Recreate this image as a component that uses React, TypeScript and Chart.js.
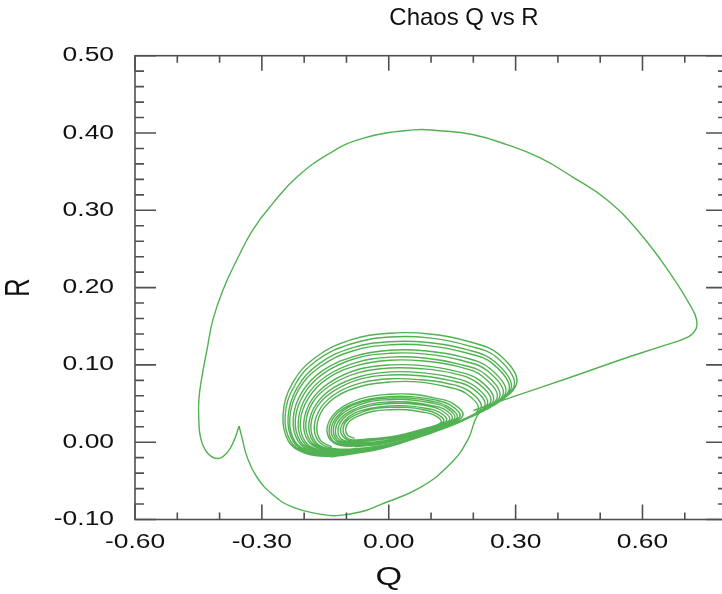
import React, { useEffect, useRef } from "react";
import { Chart, registerables } from "chart.js";
Chart.register(...registerables);

const TITLE = "Chaos Q vs R";
const X_TITLE = "Q";
const Y_TITLE = "R";
const X_MIN = -0.6;
const X_MAX = 0.788; // axis frame reaches 0.80 just past the right edge of the picture
const X_FRAME_END = 0.8;
const Y_MIN = -0.1;
const Y_MAX = 0.5;
const X_MAJOR = [-0.6, -0.3, 0, 0.3, 0.6];
const X_MINOR = [-0.5, -0.4, -0.2, -0.1, 0.1, 0.2, 0.4, 0.5, 0.7];
const Y_MAJOR = [-0.1, 0, 0.1, 0.2, 0.3, 0.4, 0.5];
const Y_MINOR = [
  -0.08, -0.06, -0.04, -0.02, 0.02, 0.04, 0.06, 0.08, 0.12, 0.14, 0.16, 0.18,
  0.22, 0.24, 0.26, 0.28, 0.32, 0.34, 0.36, 0.38, 0.42, 0.44, 0.46, 0.48,
];

// Large excursion: band -> right tip -> top arc -> left side -> cusp
const EXCURSION_UP: [number, number][] = [
  [0.2, 0.041], [0.3, 0.06], [0.43, 0.084], [0.55, 0.107], [0.65, 0.125],
  [0.707, 0.136], [0.726, 0.146], [0.728, 0.158], [0.718, 0.172],
  [0.671, 0.214], [0.593, 0.271], [0.515, 0.314], [0.435, 0.343],
  [0.357, 0.368], [0.279, 0.385], [0.198, 0.398], [0.12, 0.403],
  [0.057, 0.404], [-0.061, 0.393], [-0.139, 0.374], [-0.217, 0.343],
  [-0.274, 0.309], [-0.321, 0.275], [-0.359, 0.236], [-0.392, 0.197],
  [-0.416, 0.158], [-0.43, 0.119], [-0.442, 0.084], [-0.449, 0.055],
  [-0.449, 0.029], [-0.445, 0.006], [-0.43, -0.013], [-0.406, -0.021],
  [-0.383, -0.014], [-0.366, 0.002], [-0.354, 0.021],
];

// Cusp -> lower arc -> back into the band
const EXCURSION_DOWN: [number, number][] = [
  [-0.354, 0.021], [-0.347, 0.006], [-0.335, -0.019], [-0.312, -0.045],
  [-0.274, -0.068], [-0.227, -0.084], [-0.163, -0.093], [-0.123, -0.095],
  [-0.065, -0.09], [-0.021, -0.081], [0.073, -0.059], [0.144, -0.029],
  [0.187, 0.003], [0.21, 0.035], [0.24, 0.05],
];

// Outer spiral loops of the attractor
const OUTER_LOOPS: [number, number][] = [
  [-0.139, -0.019], [-0.021, -0.009], [0.097, 0.012], [0.215, 0.04], [0.302, 0.075], [0.262, 0.113], [0.191, 0.13], [0.097, 0.14], [0.002, 0.141], [-0.092, 0.132], [-0.175, 0.109], [-0.228, 0.076], [-0.25, 0.035], [-0.237, 0.001], [-0.199, -0.014],
  [-0.136, -0.018], [-0.021, -0.008], [0.095, 0.012], [0.211, 0.039], [0.296, 0.072], [0.257, 0.109], [0.187, 0.125], [0.095, 0.135], [0.002, 0.136], [-0.09, 0.127], [-0.172, 0.105], [-0.223, 0.073], [-0.245, 0.034], [-0.232, 0.001], [-0.195, -0.013],
  [-0.132, -0.017], [-0.019, -0.008], [0.093, 0.012], [0.206, 0.037], [0.289, 0.069], [0.251, 0.104], [0.183, 0.12], [0.093, 0.129], [0.003, 0.13], [-0.087, 0.122], [-0.166, 0.101], [-0.217, 0.07], [-0.238, 0.033], [-0.226, 0.001], [-0.189, -0.012],
  [-0.13, -0.017], [-0.019, -0.008], [0.092, 0.011], [0.202, 0.036], [0.284, 0.067], [0.247, 0.101], [0.18, 0.116], [0.092, 0.125], [0.003, 0.126], [-0.086, 0.118], [-0.164, 0.097], [-0.213, 0.068], [-0.234, 0.031], [-0.222, 0.001], [-0.186, -0.012],
  [-0.125, -0.016], [-0.018, -0.008], [0.09, 0.01], [0.197, 0.034], [0.276, 0.063], [0.24, 0.095], [0.175, 0.11], [0.09, 0.118], [0.003, 0.119], [-0.082, 0.111], [-0.158, 0.092], [-0.206, 0.064], [-0.226, 0.03], [-0.214, 0.001], [-0.18, -0.012],
  [-0.122, -0.015], [-0.017, -0.007], [0.088, 0.01], [0.193, 0.033], [0.27, 0.061], [0.234, 0.092], [0.171, 0.106], [0.088, 0.114], [0.003, 0.115], [-0.081, 0.108], [-0.154, 0.089], [-0.201, 0.062], [-0.221, 0.029], [-0.209, 0.001], [-0.176, -0.011],
  [-0.118, -0.015], [-0.017, -0.007], [0.085, 0.009], [0.187, 0.031], [0.262, 0.058], [0.228, 0.088], [0.166, 0.101], [0.085, 0.109], [0.003, 0.11], [-0.078, 0.103], [-0.149, 0.085], [-0.195, 0.059], [-0.214, 0.027], [-0.203, 0.001], [-0.17, -0.011],
  [-0.116, -0.014], [-0.016, -0.007], [0.083, 0.009], [0.183, 0.03], [0.256, 0.057], [0.222, 0.085], [0.163, 0.098], [0.083, 0.105], [0.003, 0.106], [-0.076, 0.099], [-0.146, 0.082], [-0.19, 0.057], [-0.209, 0.027], [-0.198, 0.001], [-0.166, -0.01],
  [-0.111, -0.013], [-0.015, -0.006], [0.081, 0.009], [0.176, 0.029], [0.247, 0.053], [0.215, 0.08], [0.157, 0.092], [0.081, 0.099], [0.004, 0.1], [-0.073, 0.094], [-0.14, 0.077], [-0.183, 0.054], [-0.201, 0.025], [-0.19, 0.001], [-0.16, -0.009],
  [-0.108, -0.012], [-0.015, -0.005], [0.079, 0.009], [0.172, 0.028], [0.241, 0.052], [0.209, 0.077], [0.153, 0.089], [0.079, 0.095], [0.004, 0.096], [-0.071, 0.09], [-0.137, 0.074], [-0.179, 0.052], [-0.196, 0.025], [-0.186, 0.002], [-0.156, -0.009],
  [-0.104, -0.012], [-0.014, -0.006], [0.076, 0.008], [0.167, 0.026], [0.233, 0.049], [0.202, 0.073], [0.148, 0.084], [0.076, 0.09], [0.004, 0.091], [-0.068, 0.085], [-0.132, 0.07], [-0.172, 0.049], [-0.189, 0.023], [-0.179, 0.001], [-0.15, -0.009],
  [-0.101, -0.011], [-0.014, -0.005], [0.074, 0.008], [0.162, 0.025], [0.227, 0.047], [0.197, 0.07], [0.144, 0.08], [0.074, 0.086], [0.004, 0.087], [-0.066, 0.082], [-0.128, 0.067], [-0.168, 0.047], [-0.184, 0.022], [-0.174, 0.001], [-0.146, -0.008],
  [-0.097, -0.01], [-0.013, -0.004], [0.072, 0.008], [0.156, 0.024], [0.218, 0.044], [0.19, 0.066], [0.139, 0.076], [0.072, 0.081], [0.004, 0.082], [-0.063, 0.077], [-0.122, 0.064], [-0.16, 0.045], [-0.176, 0.021], [-0.167, 0.002], [-0.14, -0.007],
  [-0.093, -0.009], [-0.012, -0.004], [0.07, 0.008], [0.151, 0.023], [0.211, 0.042], [0.183, 0.063], [0.134, 0.072], [0.07, 0.078], [0.004, 0.078], [-0.061, 0.073], [-0.118, 0.061], [-0.155, 0.043], [-0.17, 0.02], [-0.161, 0.002], [-0.135, -0.006],
];

// Inner cluster of small loops around the hole
const INNER_LOOPS: [number, number][] = [
  [-0.081, -0.006], [-0.013, -0.002], [0.056, 0.007], [0.124, 0.019], [0.175, 0.034], [0.152, 0.05], [0.11, 0.057], [0.056, 0.062], [0.001, 0.062], [-0.054, 0.058], [-0.102, 0.048], [-0.133, 0.034], [-0.146, 0.017], [-0.138, 0.003], [-0.116, -0.004],
  [-0.079, -0.005], [-0.013, -0.001], [0.053, 0.007], [0.119, 0.019], [0.168, 0.033], [0.146, 0.048], [0.106, 0.055], [0.053, 0.059], [0.0, 0.059], [-0.053, 0.055], [-0.099, 0.046], [-0.129, 0.033], [-0.141, 0.017], [-0.134, 0.003], [-0.113, -0.003],
  [-0.076, -0.004], [-0.012, 0.0], [0.051, 0.008], [0.115, 0.019], [0.162, 0.032], [0.14, 0.046], [0.102, 0.053], [0.051, 0.057], [0.0, 0.057], [-0.051, 0.054], [-0.096, 0.045], [-0.124, 0.032], [-0.136, 0.017], [-0.129, 0.004], [-0.108, -0.002],
  [-0.073, -0.003], [-0.012, 0.001], [0.049, 0.008], [0.111, 0.018], [0.156, 0.031], [0.135, 0.045], [0.098, 0.051], [0.049, 0.055], [0.0, 0.055], [-0.049, 0.052], [-0.092, 0.043], [-0.12, 0.031], [-0.131, 0.017], [-0.124, 0.004], [-0.105, -0.001],
  [-0.071, -0.002], [-0.012, 0.001], [0.048, 0.009], [0.107, 0.018], [0.15, 0.03], [0.13, 0.043], [0.095, 0.048], [0.048, 0.052], [0.0, 0.052], [-0.047, 0.049], [-0.089, 0.041], [-0.115, 0.03], [-0.126, 0.016], [-0.12, 0.005], [-0.101, 0.0],
  [-0.067, -0.001], [-0.01, 0.002], [0.046, 0.009], [0.102, 0.018], [0.144, 0.029], [0.125, 0.041], [0.091, 0.047], [0.046, 0.05], [0.001, 0.05], [-0.044, 0.047], [-0.084, 0.04], [-0.11, 0.029], [-0.12, 0.016], [-0.114, 0.005], [-0.096, 0.001],
  [-0.064, 0.001], [-0.01, 0.004], [0.044, 0.01], [0.097, 0.018], [0.137, 0.028], [0.119, 0.039], [0.087, 0.044], [0.044, 0.047], [0.001, 0.047], [-0.042, 0.044], [-0.08, 0.038], [-0.104, 0.028], [-0.114, 0.017], [-0.108, 0.007], [-0.091, 0.002],
  [-0.06, 0.002], [-0.009, 0.005], [0.042, 0.01], [0.093, 0.018], [0.13, 0.027], [0.113, 0.037], [0.082, 0.042], [0.042, 0.045], [0.001, 0.045], [-0.04, 0.043], [-0.076, 0.036], [-0.099, 0.028], [-0.108, 0.017], [-0.102, 0.007], [-0.086, 0.003],
  [-0.057, 0.004], [-0.008, 0.006], [0.04, 0.011], [0.088, 0.018], [0.124, 0.026], [0.108, 0.035], [0.079, 0.039], [0.04, 0.042], [0.001, 0.042], [-0.037, 0.04], [-0.071, 0.034], [-0.093, 0.027], [-0.102, 0.017], [-0.097, 0.009], [-0.081, 0.005],
];

const LINE_COLOR = "#52b152";
const AXIS_COLOR = "#505050";
const TEXT_COLOR = "#111111";
const FONT = "'Liberation Sans', Arial, Helvetica, sans-serif";
const STRETCH = 1.32;

function drawText(
  ctx: CanvasRenderingContext2D,
  text: string,
  x: number,
  y: number,
  size: number,
  align: CanvasTextAlign,
  stretch: number,
  rotate = false
) {
  ctx.save();
  ctx.translate(x, y);
  if (rotate) {
    ctx.rotate(-Math.PI / 2);
    ctx.scale(1, stretch);
  } else {
    ctx.scale(stretch, 1);
  }
  ctx.font = `${size}px ${FONT}`;
  ctx.fillStyle = TEXT_COLOR;
  ctx.textAlign = align;
  ctx.textBaseline = "middle";
  ctx.fillText(text, 0, 0);
  ctx.restore();
}

const decoPlugin = {
  id: "deco",
  afterDatasetsDraw(chart: any) {
    const { ctx, chartArea: a, scales } = chart;
    const xs = scales.x;
    const ys = scales.y;
    const right = xs.getPixelForValue(X_FRAME_END);
    ctx.save();
    ctx.strokeStyle = AXIS_COLOR;
    ctx.lineWidth = 1.6;
    ctx.strokeRect(a.left, a.top, right - a.left, a.bottom - a.top);
    ctx.beginPath();
    const xt = (v: number, len: number) => {
      const p = xs.getPixelForValue(v);
      ctx.moveTo(p, a.bottom);
      ctx.lineTo(p, a.bottom - len);
      ctx.moveTo(p, a.top);
      ctx.lineTo(p, a.top + len);
    };
    const yt = (v: number, len: number) => {
      const p = ys.getPixelForValue(v);
      ctx.moveTo(a.left, p);
      ctx.lineTo(a.left + len, p);
      ctx.moveTo(right, p);
      ctx.lineTo(right - len, p);
    };
    X_MAJOR.forEach((v) => xt(v, 15));
    X_MINOR.forEach((v) => xt(v, 7));
    Y_MAJOR.forEach((v) => yt(v, 21));
    Y_MINOR.forEach((v) => yt(v, 9));
    ctx.stroke();
    ctx.restore();

    X_MAJOR.forEach((v) =>
      drawText(ctx, v.toFixed(2), xs.getPixelForValue(v), a.bottom + 23, 20, "center", STRETCH)
    );
    Y_MAJOR.forEach((v) =>
      drawText(ctx, v.toFixed(2), a.left - 21, ys.getPixelForValue(v), 20, "right", STRETCH)
    );
    drawText(ctx, X_TITLE, xs.getPixelForValue(0), a.bottom + 58, 26, "center", STRETCH);
    drawText(ctx, Y_TITLE, a.left - 115, (a.top + a.bottom) / 2, 26, "center", STRETCH, true);
    drawText(ctx, TITLE, a.left + 329, a.top - 37.5, 24, "center", 1);
  },
};

function toPoints(arr: [number, number][]) {
  return arr.map(([q, r]) => ({ x: q, y: r }));
}

export default function App() {
  const ref = useRef<HTMLCanvasElement | null>(null);
  useEffect(() => {
    if (!ref.current) return;
    const ds = (arr: [number, number][], tension: number) => ({
      data: toPoints(arr),
      borderColor: LINE_COLOR,
      borderWidth: 1.4,
      pointRadius: 0,
      tension,
      fill: false,
    });
    const chart = new Chart(ref.current, {
      type: "line",
      data: {
        datasets: [
          ds(EXCURSION_UP, 0.45),
          ds(EXCURSION_DOWN, 0.45),
          ds(OUTER_LOOPS, 0.4),
          ds(INNER_LOOPS, 0.4),
        ],
      },
      options: {
        responsive: false,
        animation: false,
        devicePixelRatio: 1,
        layout: { padding: { left: 135, top: 55.7, right: 0, bottom: 74.5 } },
        plugins: { legend: { display: false }, tooltip: { enabled: false }, title: { display: false } },
        scales: {
          x: { type: "linear", min: X_MIN, max: X_MAX, display: false },
          y: { type: "linear", min: Y_MIN, max: Y_MAX, display: false },
        },
      },
      plugins: [decoPlugin],
    });
    return () => chart.destroy();
  }, []);
  return (
    <div
      style={{
        position: "fixed",
        left: 0,
        top: 0,
        width: 722,
        height: 594,
        overflow: "hidden",
        background: "#fff",
      }}
    >
      <canvas ref={ref} width={722} height={594} style={{ width: 722, height: 594, display: "block" }} />
    </div>
  );
}
